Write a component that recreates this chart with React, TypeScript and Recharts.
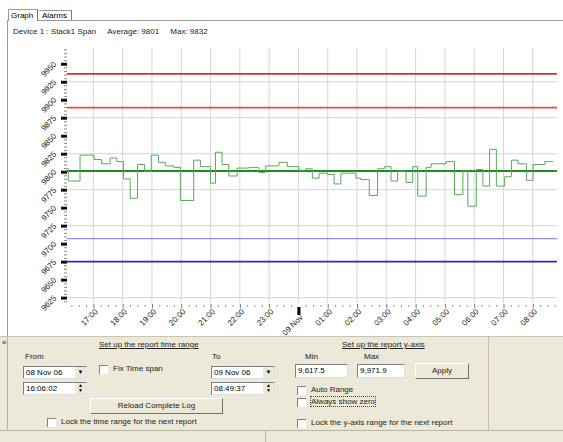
import React from "react";
import {
  ComposedChart,
  Line,
  XAxis,
  YAxis,
  CartesianGrid,
  ReferenceLine,
} from "recharts";

// span readings; time is hours counted from 08 Nov 06 00:00
const spanTimes = [
  16.1, 16.144, 16.545, 17.024, 17.284, 17.572, 17.798, 18.027, 18.257, 18.507,
  18.747, 18.976, 19.226, 19.455, 19.74, 19.969, 20.425, 20.654, 20.997, 21.168,
  21.394, 21.623, 21.908, 22.308, 22.651, 22.88, 23.336, 23.62, 24.021, 24.25,
  24.476, 24.705, 24.99, 25.219, 25.449, 25.962, 26.134, 26.418, 26.702, 26.932,
  27.161, 27.387, 27.675, 27.901, 28.072, 28.36, 28.531, 29.045, 29.329, 29.613,
  29.784, 30.072, 30.298, 30.527, 30.757, 31.041, 31.271, 31.497, 31.784, 32.01,
  32.411, 32.7,
];
const spanValues = [
  9804, 9787, 9823, 9817, 9811, 9819, 9814, 9790, 9763, 9810,
  9800, 9823, 9813, 9808, 9806, 9760, 9816, 9807, 9784, 9827,
  9810, 9794, 9805, 9806, 9799, 9808, 9813, 9807, 9802, 9804,
  9791, 9798, 9796, 9783, 9798, 9791, 9789, 9767, 9804, 9807,
  9787, 9801, 9785, 9807, 9766, 9806, 9811, 9814, 9768, 9802,
  9752, 9803, 9780, 9831, 9780, 9793, 9816, 9811, 9788, 9810,
  9814, 9814,
];

const hourTicks = [17, 18, 19, 20, 21, 22, 23, 24, 25, 26, 27, 28, 29, 30, 31, 32];
const hourLabels = [
  "17:00", "18:00", "19:00", "20:00", "21:00", "22:00", "23:00", "09 Nov",
  "01:00", "02:00", "03:00", "04:00", "05:00", "06:00", "07:00", "08:00",
];

const yLabels = [
  9625, 9650, 9675, 9700, 9725, 9750, 9775, 9800, 9825, 9850, 9875, 9900, 9925, 9950,
];
const gridValues = [9625, 9675, 9725, 9775, 9825, 9875, 9925];

const highAlarms = [9936, 9889];
const lowAlarms = [9707, 9675];
const average = 9801;
const yMin = 9617.5;
const yMax = 9971.9;
const timeFrom = 16.1006;
const timeTo = 32.827;

const data = spanTimes.map((t, i) => ({ t, v: spanValues[i] }));

// quarter-hour and 5-unit minor ticks
const xTicks: number[] = [];
for (let q = Math.ceil(timeFrom * 4); q <= Math.floor(timeTo * 4); q++) xTicks.push(q / 4);
const yTicks: number[] = [];
for (let v = 9620; v <= 9970; v += 5) yTicks.push(v);

const FONT = "'Liberation Sans', Arial, sans-serif";

const XTick = (props: any) => {
  const { x, y, payload } = props;
  const idx = hourTicks.indexOf(payload.value);
  if (idx < 0) return <rect x={x} y={y + 2} width={1} height={2} fill="#9a9a9a" />;
  const label = hourLabels[idx];
  const day = label === "09 Nov";
  const ax = x + 5;
  const ay = y + (day ? 15 : 9);
  return (
    <g>
      {day ? (
        <rect x={x - 1} y={y + 4} width={3} height={8} fill="#000" />
      ) : (
        <rect x={x} y={y + 1} width={1} height={4} fill="#777" />
      )}
      <text
        x={ax}
        y={ay}
        textAnchor="end"
        fontSize={8}
        fontFamily={FONT}
        fill="#222"
        transform={`rotate(-45 ${ax} ${ay})`}
      >
        {label}
      </text>
    </g>
  );
};

const YTick = (props: any) => {
  const { x, y, payload } = props;
  const v = payload.value;
  if (v % 25 !== 0) return <rect x={x - 3} y={y} width={3} height={1} fill="#8a8a8a" />;
  const ax = x - 10;
  const ay = y + 1;
  return (
    <g>
      <rect x={x - 6} y={y - 1} width={6} height={3} fill="#111" />
      {yLabels.includes(v) && (
        <text
          x={ax}
          y={ay}
          textAnchor="end"
          fontSize={8}
          fontFamily={FONT}
          fill="#222"
          transform={`rotate(-45 ${ax} ${ay})`}
        >
          {v}
        </text>
      )}
    </g>
  );
};

const box: React.CSSProperties = {
  position: "absolute",
  background: "#fff",
  borderTop: "1px solid #7f7f7f",
  borderLeft: "1px solid #7f7f7f",
  borderRight: "1px solid #e0e0e0",
  borderBottom: "1px solid #e0e0e0",
  boxSizing: "border-box",
  fontSize: 8,
  lineHeight: "11px",
  paddingLeft: 2,
};

const Txt = ({ x, y, children, u }: { x: number; y: number; children: React.ReactNode; u?: boolean }) => (
  <div
    style={{
      position: "absolute",
      left: x,
      top: y,
      fontSize: 8,
      whiteSpace: "nowrap",
      textDecoration: u ? "underline" : "none",
      color: "#222",
    }}
  >
    {children}
  </div>
);

const Check = ({ x, y, label, focus }: { x: number; y: number; label: string; focus?: boolean }) => (
  <>
    <div
      style={{
        position: "absolute",
        left: x,
        top: y,
        width: 9,
        height: 9,
        background: "#fff",
        borderTop: "1px solid #808080",
        borderLeft: "1px solid #808080",
        boxSizing: "border-box",
      }}
    />
    <div
      style={{
        position: "absolute",
        left: x + 14,
        top: y - 1,
        fontSize: 8,
        whiteSpace: "nowrap",
        color: "#222",
        outline: focus ? "1px dotted #444" : "none",
      }}
    >
      {label}
    </div>
  </>
);

const Button = ({ x, y, w, h, label }: { x: number; y: number; w: number; h: number; label: string }) => (
  <div
    style={{
      position: "absolute",
      left: x,
      top: y,
      width: w,
      height: h,
      background: "#ece9d8",
      borderTop: "1px solid #fff",
      borderLeft: "1px solid #fff",
      borderRight: "1px solid #707070",
      borderBottom: "1px solid #707070",
      boxSizing: "border-box",
      fontSize: 8,
      textAlign: "center",
      lineHeight: `${h - 2}px`,
      color: "#222",
    }}
  >
    {label}
  </div>
);

const Drop = ({ x, y, label }: { x: number; y: number; label: string }) => (
  <div style={{ ...box, left: x, top: y, width: 64, height: 13 }}>
    {label}
    <div
      style={{
        position: "absolute",
        right: 0,
        top: 0,
        width: 11,
        height: 11,
        background: "#ece9d8",
        fontSize: 6,
        textAlign: "center",
        lineHeight: "11px",
      }}
    >
      ▼
    </div>
  </div>
);

const Spin = ({ x, y, label }: { x: number; y: number; label: string }) => (
  <div style={{ ...box, left: x, top: y, width: 64, height: 13 }}>
    {label}
    <div
      style={{
        position: "absolute",
        right: 0,
        top: 0,
        width: 11,
        height: 11,
        background: "#ece9d8",
        fontSize: 5,
        textAlign: "center",
        lineHeight: "5px",
      }}
    >
      ▲<br />▼
    </div>
  </div>
);

export default function App() {
  return (
    <div
      style={{
        position: "absolute",
        left: 0,
        top: 0,
        width: 563,
        height: 442,
        background: "#fff",
        fontFamily: FONT,
        overflow: "hidden",
      }}
    >
      {/* tabs */}
      <div style={{ position: "absolute", left: 7, top: 20, width: 556, height: 316, borderTop: "1px solid #9a9a9a", borderLeft: "1px solid #9a9a9a" }} />
      <div style={{ position: "absolute", left: 8, top: 9, width: 30, height: 12, background: "#fff", borderTop: "1px solid #9a9a9a", borderLeft: "1px solid #9a9a9a", borderRight: "1px solid #777", fontSize: 8, lineHeight: "11px", paddingLeft: 2, boxSizing: "border-box" }}>
        Graph
      </div>
      <div style={{ position: "absolute", left: 39, top: 10, width: 33, height: 10, borderTop: "1px solid #9a9a9a", borderRight: "1px solid #777", fontSize: 8, lineHeight: "10px", paddingLeft: 3, boxSizing: "border-box" }}>
        Alarms
      </div>
      <div style={{ position: "absolute", left: 13, top: 27, fontSize: 8, whiteSpace: "nowrap", color: "#222" }}>
        Device 1 : Stack1 Span&nbsp;&nbsp;&nbsp;&nbsp;&nbsp;Average: 9801&nbsp;&nbsp;&nbsp;&nbsp;&nbsp;Max: 9832
      </div>

      {/* control panel */}
      <div style={{ position: "absolute", left: 0, top: 336, width: 563, height: 94, background: "#ece9d8", borderTop: "1px solid #c8c4b4" }} />
      <div style={{ position: "absolute", left: 7, top: 337, width: 1, height: 93, background: "#b5b19f" }} />
      <div style={{ position: "absolute", left: 488, top: 337, width: 1, height: 93, background: "#c2bea9" }} />
      <Txt x={2} y={338}>«</Txt>

      <Txt x={99} y={340} u>Set up the report time range</Txt>
      <Txt x={25} y={352}>From</Txt>
      <Txt x={212} y={352}>To</Txt>
      <Drop x={23} y={366} label="08 Nov 06" />
      <Spin x={23} y={382} label="16:06:02" />
      <Check x={99} y={365} label="Fix Time span" />
      <Drop x={211} y={366} label="09 Nov 06" />
      <Spin x={211} y={382} label="08:49:37" />
      <Button x={90} y={398} w={133} h={16} label="Reload Complete Log" />
      <Check x={47} y={418} label="Lock the time range for the next report" />

      <Txt x={342} y={340} u>Set up the report y-axis</Txt>
      <Txt x={305} y={352}>Min</Txt>
      <Txt x={364} y={352}>Max</Txt>
      <div style={{ ...box, left: 295, top: 364, width: 53, height: 14 }}>9,617.5</div>
      <div style={{ ...box, left: 357, top: 364, width: 48, height: 14 }}>9,971.9</div>
      <Button x={415} y={363} w={54} h={16} label="Apply" />
      <Check x={297} y={386} label="Auto Range" />
      <Check x={297} y={398} label="Always show zero" focus />
      <Check x={297} y={419} label="Lock the  y-axis range for the next report" />

      {/* status bar */}
      <div style={{ position: "absolute", left: 0, top: 430, width: 563, height: 12, background: "#ece9d8", borderTop: "1px solid #b8b4a2" }} />
      <div style={{ position: "absolute", left: 265, top: 431, width: 1, height: 11, background: "#b8b4a2" }} />

      <div style={{ position: "absolute", left: 0, top: 0 }}>
        <ComposedChart
          width={563}
          height={341}
          data={data}
          margin={{ top: 48, right: 6, bottom: 8, left: 7 }}
        >
          <CartesianGrid
            stroke="#d6d6d6"
            horizontalValues={gridValues}
            verticalValues={hourTicks}
          />
          <XAxis
            dataKey="t"
            type="number"
            domain={[timeFrom, timeTo]}
            ticks={xTicks}
            interval={0}
            axisLine={false}
            tickLine={false}
            tickSize={0}
            tickMargin={0}
            height={30}
            tick={<XTick />}
          />
          <YAxis
            type="number"
            domain={[yMin, yMax]}
            ticks={yTicks}
            interval={0}
            axisLine={false}
            tickLine={false}
            tickSize={0}
            tickMargin={0}
            width={60}
            allowDataOverflow
            tick={<YTick />}
          />
          <ReferenceLine y={highAlarms[0]} stroke="#d63030" strokeWidth={1.6} />
          <ReferenceLine y={highAlarms[1]} stroke="#ec4646" strokeWidth={1.6} />
          <ReferenceLine y={average} stroke="#1f8a1f" strokeWidth={2} />
          <ReferenceLine y={lowAlarms[0]} stroke="#9090f0" strokeWidth={1.3} />
          <ReferenceLine y={lowAlarms[1]} stroke="#2a2ac8" strokeWidth={1.6} />
          <Line
            type="stepAfter"
            dataKey="v"
            stroke="#5aa85a"
            strokeWidth={1}
            dot={false}
            isAnimationActive={false}
          />
        </ComposedChart>
      </div>
    </div>
  );
}
